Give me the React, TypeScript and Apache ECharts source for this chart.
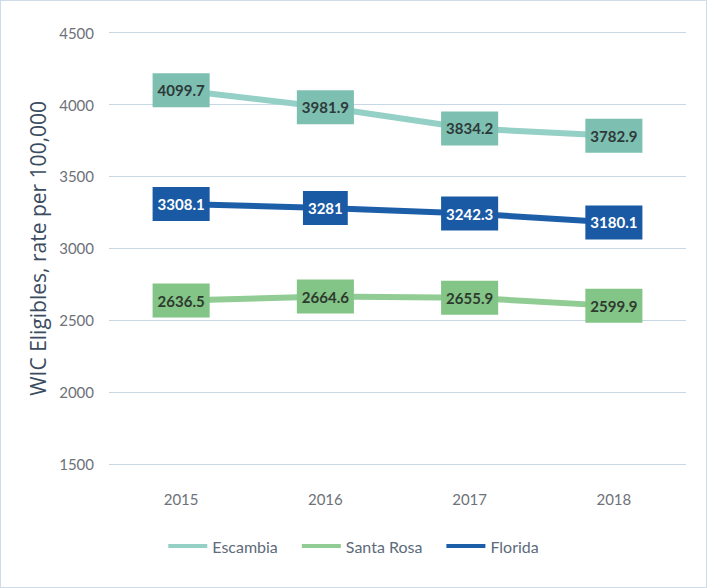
import React, { useEffect, useRef } from "react";
import * as echarts from "echarts";

const years = ["2015", "2016", "2017", "2018"];
const escambia = [4099.7, 3981.9, 3834.2, 3782.9];
const santaRosa = [2636.5, 2664.6, 2655.9, 2599.9];
const florida = [3308.1, 3281, 3242.3, 3180.1];
const seriesNames = ["Escambia", "Santa Rosa", "Florida"];

const FONT = "Lato, 'Liberation Sans', sans-serif";

export default function App() {
  const ref = useRef<HTMLDivElement>(null);
  useEffect(() => {
    if (!ref.current) return;
    const chart = echarts.init(ref.current, undefined, { renderer: "svg" });
    const mk = (name: string, data: number[], line: string, box: string, txt: string) => ({
      name,
      type: "line",
      data,
      symbol: "circle",
      symbolSize: 2,
      showSymbol: true,
      itemStyle: { color: line },
      lineStyle: { color: line, width: 6 },
      label: {
        show: true,
        position: "inside",
        color: txt,
        fontFamily: FONT,
        fontWeight: "bold",
        fontSize: 15,
        backgroundColor: box,
        padding: [10, 5, 9, 5],
      },
      z: name === "Florida" ? 3 : 2,
    });
    chart.setOption({
      animation: false,
      backgroundColor: "#ffffff",
      grid: { left: 108, right: 20, top: 31.7, bottom: 123 },
      legend: {
        bottom: 28,
        left: "center",
        data: seriesNames,
        icon: "rect",
        itemWidth: 39,
        itemHeight: 4,
        itemGap: 24,
        textStyle: { color: "#5d6b7a", fontFamily: FONT, fontSize: 16 },
      },
      xAxis: {
        type: "category",
        data: years,
        boundaryGap: true,
        axisLine: { show: false },
        axisTick: { show: false },
        axisLabel: { color: "#6e7178", fontFamily: FONT, fontSize: 15, margin: 27 },
      },
      yAxis: {
        type: "value",
        min: 1500,
        max: 4500,
        interval: 500,
        name: "WIC Eligibles, rate per 100,000",
        nameLocation: "middle",
        nameGap: 53,
        nameTextStyle: { color: "#3b4c5f", fontFamily: "'Open Sans', sans-serif", fontSize: 21 },
        axisLine: { show: false },
        axisTick: { show: false },
        axisLabel: {
          color: "#6e7178",
          fontFamily: FONT,
          fontSize: 15,
          margin: 15,
          formatter: (v: number) => String(v),
        },
        splitLine: { lineStyle: { color: "#c7d7e4", width: 1 } },
      },
      series: [
        mk("Escambia", escambia, "#94d0c5", "#7dbfb0", "#2e3a3a"),
        mk("Santa Rosa", santaRosa, "#90cc93", "#83c487", "#2e3a2e"),
        mk("Florida", florida, "#1d5ea8", "#1a5aa4", "#ffffff"),
      ],
    });
    return () => chart.dispose();
  }, []);
  return (
    <div
      style={{
        position: "fixed",
        left: 0,
        top: 0,
        width: 707,
        height: 588,
        boxSizing: "border-box",
        border: "1px solid #cfdbe6",
        background: "#fff",
      }}
    >
      <div ref={ref} style={{ width: 705, height: 586 }} />
    </div>
  );
}
